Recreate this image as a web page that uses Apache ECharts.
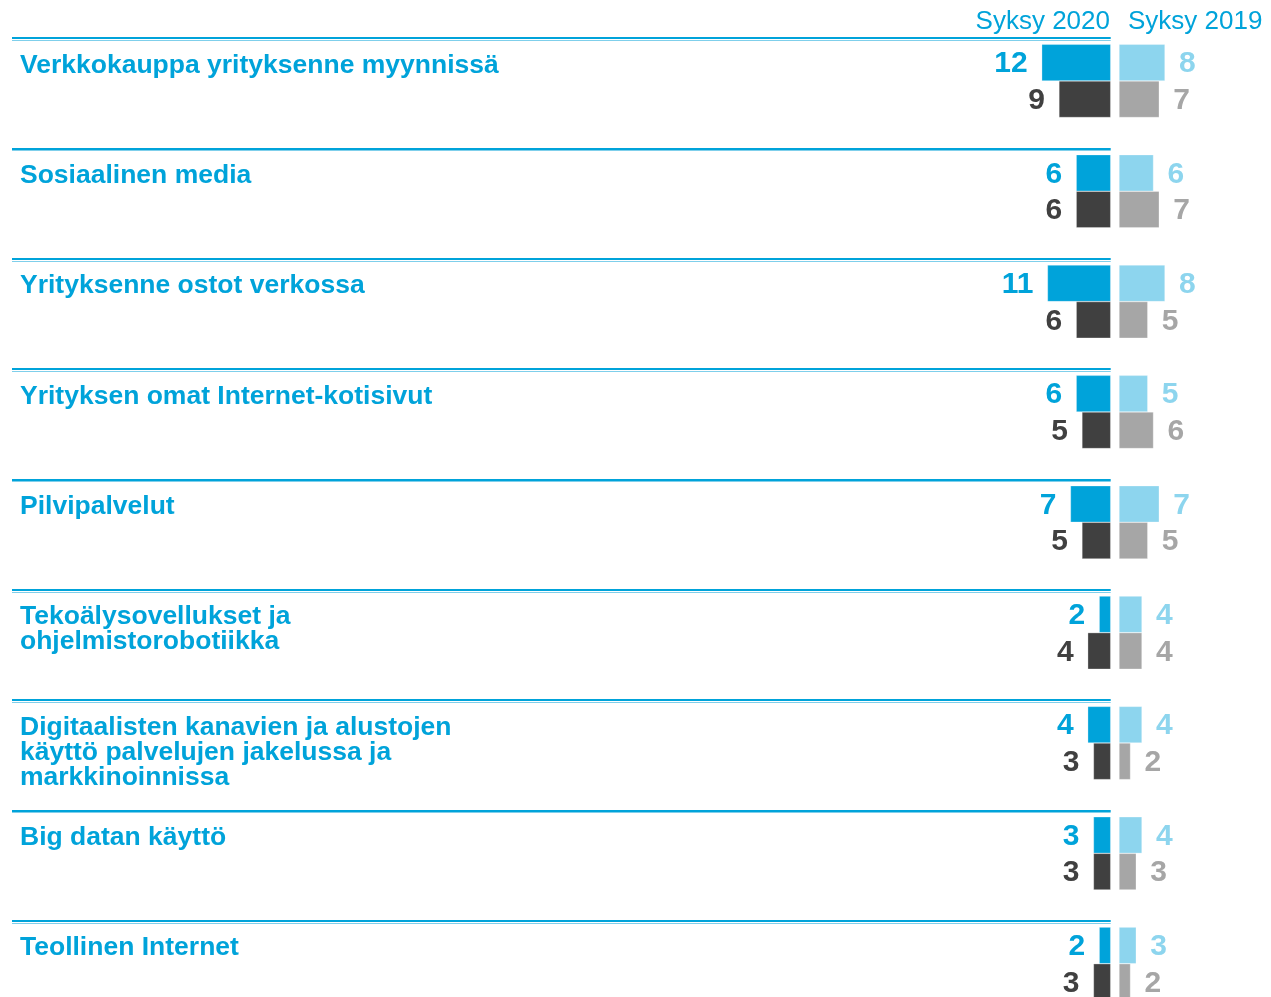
<!DOCTYPE html>
<html>
<head>
<meta charset="utf-8">
<script src="https://cdn.jsdelivr.net/npm/echarts@6/dist/echarts.min.js"></script>
<style>
    html, body { margin: 0; padding: 0; background: #fff; overflow: hidden; }
    #main { width: 1271px; height: 997px; }
</style>
</head>
<body>
<div id="main"></div>
<script>
var categories = [
    'Verkkokauppa yrityksenne myynnissä',
    'Sosiaalinen media',
    'Yrityksenne ostot verkossa',
    'Yrityksen omat Internet-kotisivut',
    'Pilvipalvelut',
    'Tekoälysovellukset ja\nohjelmistorobotiikka',
    'Digitaalisten kanavien ja alustojen\nkäyttö palvelujen jakelussa ja\nmarkkinoinnissa',
    'Big datan käyttö',
    'Teollinen Internet'
];
var periods = ['Syksy 2020', 'Syksy 2019'];

// syksy 2020: top row / bottom row
var autumn2020Top = [12, 6, 11, 6, 7, 2, 4, 3, 2];
var autumn2020Bottom = [9, 6, 6, 5, 5, 4, 3, 3, 3];
// syksy 2019: top row / bottom row
var autumn2019Top = [8, 6, 8, 5, 7, 4, 4, 4, 3];
var autumn2019Bottom = [7, 7, 5, 6, 5, 4, 2, 3, 2];

var FONT = '"Liberation Sans", Arial, sans-serif';
var BLUE = '#00a3da';
var DARK = '#404040';
var LIGHT = '#8dd5ee';
var GREY = '#a6a6a6';

var BAND = 110.35;
var ROWS_H = BAND * categories.length;
var SEP_TOP = 38;
var BAR_W = 36.6;

var hiddenY = function(idx) {
    return {
        type: 'category', gridIndex: idx, inverse: true, data: categories,
        axisLine: { show: false }, axisTick: { show: false }, axisLabel: { show: false }
    };
};

var barSeries = function(axisIdx, data, color, pos) {
    return {
        type: 'bar',
        xAxisIndex: axisIdx,
        yAxisIndex: axisIdx,
        data: data,
        barWidth: BAR_W,
        barGap: 0,
        itemStyle: { color: color, borderColor: 'rgba(255,255,255,0.6)', borderWidth: 0.5 },
        label: {
            show: true,
            position: pos,
            distance: 14,
            offset: [0, 1.5],
            color: color,
            fontFamily: FONT,
            fontWeight: 'bold',
            fontSize: 30
        },
        silent: true
    };
};

var makeGrid = function(left, width, top) {
    return { left: left, width: width, top: top, height: ROWS_H, outerBoundsMode: 'none' };
};

var myChart = echarts.init(document.getElementById('main'), null, { renderer: 'canvas' });
myChart.setOption({
    animation: false,
    title: [{
        text: periods[0],
        right: 156, top: 4,
        textStyle: { color: BLUE, fontFamily: FONT, fontWeight: 'normal', fontSize: 26 }
    }, {
        text: periods[1],
        left: 1123, top: 4,
        textStyle: { color: BLUE, fontFamily: FONT, fontWeight: 'normal', fontSize: 26 }
    }],
    grid: [
        // separator lines (double line)
        makeGrid(12, 1098.7, SEP_TOP),
        makeGrid(12, 1098.7, SEP_TOP + 2.2),
        // category labels
        makeGrid(20, 600, SEP_TOP + 14.8 - BAND / 2),
        // bars 2020 (grow to the left) and 2019
        makeGrid(1110.7 - 115, 115, SEP_TOP + 42.9 - BAND / 2),
        makeGrid(1119, 115, SEP_TOP + 42.9 - BAND / 2)
    ],
    xAxis: [
        { gridIndex: 0, show: false },
        { gridIndex: 1, show: false },
        { gridIndex: 2, show: false },
        { gridIndex: 3, type: 'value', min: 0, max: 20, inverse: true, show: false },
        { gridIndex: 4, type: 'value', min: 0, max: 20, show: false }
    ],
    yAxis: [{
        type: 'category', gridIndex: 0, inverse: true, data: categories,
        axisLine: { show: false }, axisTick: { show: false }, axisLabel: { show: false },
        splitLine: { show: true, interval: 0, lineStyle: { color: BLUE, width: 2 } }
    }, {
        type: 'category', gridIndex: 1, inverse: true, data: categories,
        axisLine: { show: false }, axisTick: { show: false }, axisLabel: { show: false },
        splitLine: { show: true, interval: 0, lineStyle: { color: '#7fcfeb', width: 1.2 } }
    }, {
        type: 'category', gridIndex: 2, inverse: true, data: categories,
        axisLine: { show: false }, axisTick: { show: false },
        axisLabel: {
            inside: true,
            interval: 0,
            margin: 0,
            align: 'left',
            verticalAlign: 'top',
            color: BLUE,
            fontFamily: FONT,
            fontWeight: 'bold',
            fontSize: 26.5,
            lineHeight: 25
        }
    },
        hiddenY(3),
        hiddenY(4)
    ],
    series: [
        barSeries(3, autumn2020Top, BLUE, 'left'),
        barSeries(3, autumn2020Bottom, DARK, 'left'),
        barSeries(4, autumn2019Top, LIGHT, 'right'),
        barSeries(4, autumn2019Bottom, GREY, 'right')
    ]
});
</script>
</body>
</html>
